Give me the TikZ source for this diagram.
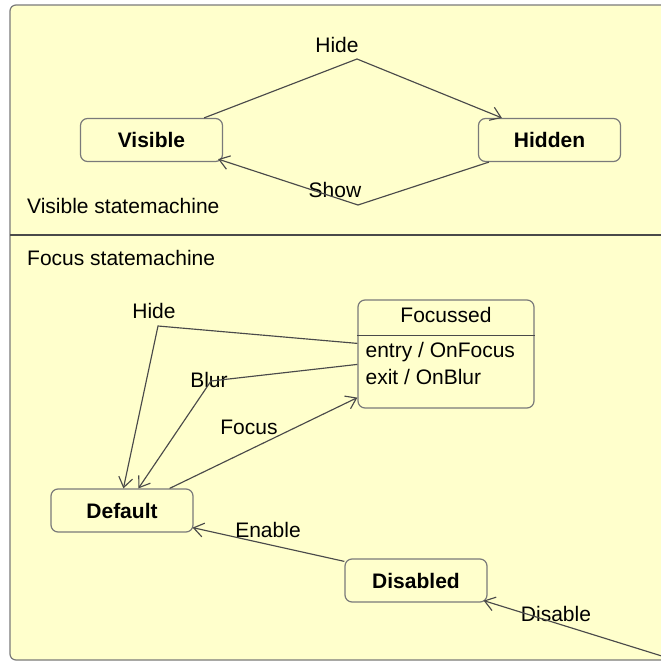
\documentclass[tikz,border=0pt]{standalone}
\usepackage{fontspec}
\setmainfont{Liberation Sans}
\usetikzlibrary{arrows.meta,calc}
\definecolor{paper}{HTML}{FFFFCC}
\definecolor{edge}{HTML}{4A4A4A}
\definecolor{rim}{HTML}{7A7A7A}
\begin{document}
\begin{tikzpicture}[x=1pt,y=-1pt,
  font=\fontsize{21}{25}\selectfont,
  state/.style={draw=rim, line width=1.2pt, rounded corners=7pt,
    minimum width=142pt, minimum height=43pt, inner sep=0pt,
    font=\fontsize{21}{25}\selectfont\bfseries},
  trans/.style={draw=edge, line width=1.15pt,
    -{Straight Barb[length=10pt,width=14pt,line width=1.15pt]}},
  lbl/.style={inner sep=0pt, text=black},
]
\useasboundingbox (0,0) rectangle (661,662);
\clip (0,0) rectangle (661,662);
\fill[white] (0,0) rectangle (661,662);

% frame with the two regions
\draw[rim, fill=paper, line width=1.2pt, rounded corners=6pt] (10,5) rectangle (700,660);
\draw[edge, line width=1.2pt] (10,235) -- (700,235);

% ---- visible state machine ----
\node[state] (vis) at (151.5,140) {Visible};
\node[state] (hid) at (549.5,140) {Hidden};
\node[lbl, anchor=west] (vsm) at (27,206) {Visible statemachine};

\node[lbl] (lhide) at (337,45) {Hide};
\node[lbl] (lshow) at (335,190) {Show};

\draw[trans] ($(vis.north east)+(-19,0)$) -- (357,59) -- ($(hid.north west)+(24,0)$);
\draw[trans] ($(hid.south west)+(11,0)$) -- (358,205) -- ($(vis.south east)+(-5,-3)$);

% ---- focus state machine ----
\node[lbl, anchor=west] (fsm) at (27,258) {Focus statemachine};

\node[state, minimum width=176pt, minimum height=108pt] (foc) at (446,354) {};
\node[lbl, font=\fontsize{21}{25}\selectfont] (focname) at ($(foc.north)+(0,16)$) {Focussed};
\draw[edge, line width=1.1pt] ($(foc.north west)+(0,36)$) -- ($(foc.north east)+(0,36)$);
\node[lbl, anchor=west] (entry) at ($(foc.north west)+(8,53)$) {entry / OnFocus};
\node[lbl, anchor=west] (exit) at ($(foc.north west)+(8,78)$) {exit / OnBlur};

\node[state] (def) at (122,510.5) {Default};
\node[state] (dis) at (416,580.5) {Disabled};

\node[lbl] (lhide2) at (154,311) {Hide};
\node[lbl] (lblur) at (209,380) {Blur};
\node[lbl] (lfocus) at (249,427) {Focus};
\node[lbl] (lenable) at (268,530) {Enable};
\node[lbl] (ldisable) at (556,614) {Disable};

\coordinate (offright) at (665,657);

\draw[trans] ($(foc.north west)+(0,44)$) -- (158,326) -- ($(def.north west)+(73,0)$);
\draw[trans] ($(foc.north west)+(0,65)$) -- (211,381) -- ($(def.north west)+(88,0)$);
\draw[trans] ($(def.north east)+(-24,0)$) -- ($(foc.south west)+(0,-11)$);
\draw[trans] ($(dis.north west)+(0,3)$) -- ($(def.south east)+(-1,-5)$);
\draw[trans] (offright) -- ($(dis.south east)+(-4,-2)$);
\end{tikzpicture}
\end{document}
